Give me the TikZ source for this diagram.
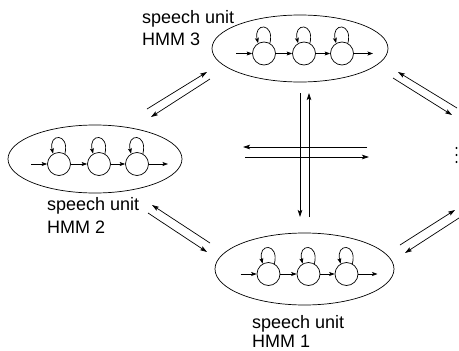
\documentclass[tikz,border=0pt]{standalone}
\usepackage{fontspec}
\setmainfont{Liberation Sans}
\usetikzlibrary{arrows.meta}
\tikzset{
  stat/.style={draw, circle, minimum size=23pt, inner sep=0pt, line width=0.7pt},
  arr/.style={line width=0.7pt, -{Stealth[length=7pt,width=4.5pt,inset=1.5pt]}},
  sarr/.style={line width=0.7pt, -{Stealth[length=5.5pt,width=4pt,inset=1.2pt]}},
  lbl/.style={anchor=base west, inner sep=0pt, font=\fontsize{18}{22}\selectfont},
  dotm/.style={circle, fill, inner sep=0pt, minimum size=2.4pt},
}
\begin{document}
\begin{tikzpicture}[x=1pt,y=-1pt]
\useasboundingbox (0,0) rectangle (459,351);
% ellipses
\draw[line width=0.7pt] (300,48.5) ellipse [x radius=88, y radius=33.5];
\draw[line width=0.7pt] (95,159) ellipse [x radius=87, y radius=34];
\draw[line width=0.7pt] (304.5,269) ellipse [x radius=89.5, y radius=36];
% HMM chains
\foreach \n/\cx/\cy in {t/300/48.5, l/95/159, b/304.5/269}{
  \node[stat] (\n1) at (\cx-36,\cy+5) {};
  \node[stat] (\n2) at (\cx+4,\cy+5) {};
  \node[stat] (\n3) at (\cx+42,\cy+5) {};
  \coordinate (\n in) at (\cx-64,\cy+5);
  \coordinate (\n out) at (\cx+73,\cy+5);
  \draw[sarr] (\n in) -- (\n1);
  \draw[sarr] (\n1) -- (\n2);
  \draw[sarr] (\n2) -- (\n3);
  \draw[sarr] (\n3) -- (\n out);
  \foreach \k in {1,2,3}{
    \draw[sarr] (\n\k.60) .. controls +(5,-21) and +(-5,-21) .. (\n\k.120);
  }
}
% labels
\node[lbl] (l3a) at (142,23) {speech unit};
\node[lbl] (l3b) at (142,45) {HMM 3};
\node[lbl] (l2a) at (47,210) {speech unit};
\node[lbl] (l2b) at (47,233) {HMM 2};
\node[lbl] (l1a) at (252,328) {speech unit};
\node[lbl] (l1b) at (252,347.5) {HMM 1};
% dots
\node[dotm] (dot1) at (456.5,148) {};
\node[dotm] (dot2) at (456.5,155) {};
\node[dotm] (dot3) at (456.5,162) {};
% pair arrows
\coordinate (a1s) at (147,109); \coordinate (a1e) at (207,72);
\coordinate (a2s) at (210,79);  \coordinate (a2e) at (151,117);
\coordinate (b1s) at (457,108); \coordinate (b1e) at (398,72);
\coordinate (b2s) at (393,78);  \coordinate (b2e) at (452,115);
\coordinate (c1s) at (400,245); \coordinate (c1e) at (455,210);
\coordinate (c2s) at (459,218); \coordinate (c2e) at (405,253);
\coordinate (d1s) at (210,243); \coordinate (d1e) at (152,205);
\coordinate (d2s) at (148,213); \coordinate (d2e) at (207,252);
\foreach \p in {a1,a2,b1,b2,c1,c2,d1,d2}{
  \draw[arr] (\p s) -- (\p e);
}
% cross
\coordinate (v1s) at (300,93);  \coordinate (v1e) at (300,217);
\coordinate (v2s) at (309,217); \coordinate (v2e) at (309,93);
\coordinate (h1s) at (367,147); \coordinate (h1e) at (243,147);
\coordinate (h2s) at (245,157); \coordinate (h2e) at (369,157);
\foreach \p in {v1,v2,h1,h2}{
  \draw[arr] (\p s) -- (\p e);
}
\end{tikzpicture}
\end{document}
